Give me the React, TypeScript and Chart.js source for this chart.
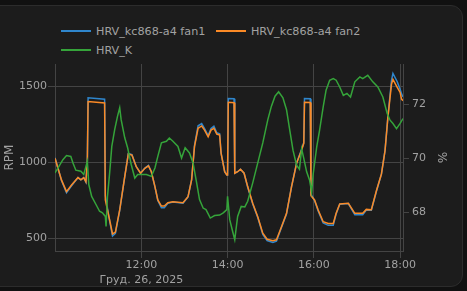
import React, { useEffect, useRef } from "react";
import { Chart, registerables } from "chart.js";

Chart.register(...registerables);

const SERIES_NAMES = ["HRV_kc868-a4 fan1", "HRV_kc868-a4 fan2", "HRV_K"];
const SERIES_COLORS = ["#2f86cc", "#fb8a26", "#35a43a"];

const FAN_TIMES = [
  "10:00", "10:09", "10:16", "10:23", "10:32", "10:36", "10:40", "10:43", "10:45", "10:46",
  "11:09", "11:10", "11:16", "11:20", "11:24", "11:30", "11:37", "11:42", "11:47", "11:53",
  "11:59", "12:05", "12:10", "12:14", "12:19", "12:23", "12:28", "12:32", "12:37", "12:44",
  "12:58", "13:05", "13:10", "13:14", "13:19", "13:24", "13:28", "13:33", "13:37", "13:41",
  "13:45", "13:49", "13:51", "13:56", "13:59", "14:00", "14:01", "14:09", "14:10", "14:14",
  "14:18", "14:23", "14:28", "14:35", "14:42", "14:49", "14:55", "15:03", "15:08", "15:15",
  "15:22", "15:29", "15:36", "15:43", "15:46", "15:47", "15:55", "15:56", "16:01", "16:06",
  "16:13", "16:20", "16:27", "16:31", "16:36", "16:48", "16:57", "17:08", "17:13", "17:20",
  "17:27", "17:34", "17:39", "17:43", "17:48", "17:50", "17:56", "18:00", "18:02", "18:04",
];

const FAN1_RPM = [
  1030, 880, 800, 845, 899, 884, 899, 870, 1012, 1425,
  1415, 780, 612, 515, 532, 684, 905, 1058, 1050, 972,
  928, 962, 980, 938, 838, 748, 700, 700, 730, 738,
  730, 772, 886, 1110, 1240, 1255, 1222, 1176, 1222, 1238,
  1194, 1188, 1062, 938, 916, 916, 1420, 1418, 928, 938,
  954, 928, 836, 725, 636, 525, 485, 472, 480, 570,
  660, 840, 995, 1085, 1130, 1420, 1418, 790, 748, 680,
  600, 585, 585, 660, 724, 728, 655, 655, 686, 684,
  808, 922, 1078, 1300, 1540, 1585, 1530, 1480, 1450, 1430,
];

const FAN2_RPM = [
  1026, 884, 807, 850, 899, 884, 899, 872, 1010, 1400,
  1390, 752, 620, 528, 540, 686, 905, 1055, 1048, 971,
  928, 960, 976, 938, 840, 752, 712, 712, 734, 740,
  734, 774, 884, 1103, 1224, 1239, 1212, 1168, 1212, 1224,
  1186, 1180, 1059, 938, 916, 916, 1395, 1392, 928, 938,
  954, 928, 840, 730, 642, 533, 493, 484, 490, 576,
  664, 840, 993, 1081, 1125, 1395, 1393, 780, 752, 686,
  609, 597, 597, 664, 726, 730, 664, 664, 690, 688,
  813, 923, 1076, 1296, 1515, 1545, 1493, 1460, 1416, 1405,
];

const K_TIMES = [
  "10:00", "10:04", "10:11", "10:16", "10:22", "10:25", "10:29", "10:36", "10:40", "10:45",
  "10:47", "10:51", "10:57", "11:02", "11:06", "11:10", "11:11", "11:13", "11:16", "11:19",
  "11:23", "11:27", "11:30", "11:32", "11:37", "11:41", "11:46", "11:51", "11:55", "12:00",
  "12:07", "12:14", "12:19", "12:23", "12:28", "12:35", "12:39", "12:44", "12:51", "12:56",
  "13:01", "13:07", "13:12", "13:17", "13:21", "13:26", "13:30", "13:36", "13:42", "13:49",
  "13:54", "13:59", "14:00", "14:03", "14:07", "14:10", "14:14", "14:19", "14:24", "14:28",
  "14:35", "14:42", "14:49", "14:56", "15:01", "15:06", "15:11", "15:17", "15:22", "15:26",
  "15:31", "15:36", "15:40", "15:43", "15:46", "15:50", "15:54", "15:57", "15:59", "16:04",
  "16:08", "16:13", "16:17", "16:22", "16:27", "16:31", "16:36", "16:41", "16:46", "16:51",
  "16:57", "17:04", "17:08", "17:15", "17:22", "17:29", "17:36", "17:42", "17:46", "17:50",
  "17:55", "18:00", "18:04",
];

const K_PCT = [
  69.46, 69.64, 69.95, 70.1, 70.07, 69.83, 69.56, 69.52, 69.4, 69.89,
  69.03, 68.59, 68.29, 68.04, 67.98, 67.85, 67.48, 68.59, 69.46, 70.44,
  71.06, 71.56, 71.87, 71.43, 70.76, 70.39, 69.77, 69.27, 69.4, 69.4,
  69.4, 69.33, 69.64, 70.07, 70.57, 70.63, 70.75, 70.63, 70.44, 70.01,
  70.39, 70.2, 69.83, 69.09, 68.47, 68.16, 68.1, 67.79, 67.88, 67.9,
  67.98, 68.1, 68.59, 67.73, 67.3, 66.99, 67.85, 68.22, 68.2, 68.41,
  69.09, 69.83, 70.57, 71.43, 71.93, 72.3, 72.46, 72.24, 71.8, 71.13,
  70.3, 69.75, 69.6, 70.35, 70.0, 69.5, 69.2, 68.75, 69.4, 70.42,
  71.04, 71.9, 72.52, 72.89, 72.95, 72.89, 72.64, 72.33, 72.4, 72.27,
  72.83, 73.01, 72.95, 73.07, 72.83, 72.64, 72.27, 71.66, 71.41, 71.29,
  71.1, 71.29, 71.47,
];

const X_RANGE = ["10:00", "18:04"];
const X_TICKS = ["12:00", "14:00", "16:00", "18:00"];
const DATE_LABEL = "Груд. 26, 2025";
const RPM_RANGE = [416, 1647];
const RPM_TICKS = [500, 1000, 1500];
const PCT_RANGE = [66.57, 73.49];
const PCT_TICKS = [68, 70, 72];
const Y_TITLES = ["RPM", "%"];

const TEXT = "#a2a2a2";
const GRID = "#444444";
const FONT = "'DejaVu Sans', sans-serif";

const toH = (s: string) => {
  const [h, m] = s.split(":").map(Number);
  return h + m / 60;
};
const fmt = (v: number) => {
  const h = Math.floor(v + 1e-6);
  const m = Math.round((v - h) * 60);
  return `${String(h).padStart(2, "0")}:${String(m).padStart(2, "0")}`;
};

export default function App() {
  const ref = useRef<HTMLCanvasElement | null>(null);

  useEffect(() => {
    if (!ref.current) return;
    Chart.defaults.font.family = FONT;
    const line = (i: number, times: string[], vals: number[], axis: string, order: number) => ({
      label: SERIES_NAMES[i],
      data: times.map((t, k) => ({ x: toH(t), y: vals[k] })),
      borderColor: SERIES_COLORS[i],
      backgroundColor: SERIES_COLORS[i],
      borderWidth: 1.5,
      pointRadius: 0,
      tension: 0,
      fill: false,
      yAxisID: axis,
      order,
    });
    const chart = new Chart(ref.current, {
      type: "line",
      data: {
        datasets: [
          line(0, FAN_TIMES, FAN1_RPM, "y", 2),
          line(1, FAN_TIMES, FAN2_RPM, "y", 1),
          line(2, K_TIMES, K_PCT, "y1", 0),
        ],
      },
      options: {
        animation: false,
        responsive: false,
        maintainAspectRatio: false,
        layout: { padding: { top: 64, left: 0, right: 0, bottom: 0 } },
        plugins: { legend: { display: false }, tooltip: { enabled: false } },
        scales: {
          x: {
            type: "linear",
            min: toH(X_RANGE[0]),
            max: toH(X_RANGE[1]),
            afterBuildTicks: (s: any) => {
              s.ticks = X_TICKS.map((t) => ({ value: toH(t) }));
            },
            afterFit: (s: any) => {
              s.height = 40;
            },
            ticks: {
              color: TEXT,
              font: { family: FONT, size: 11, lineHeight: 1.35 },
              padding: 0,
              maxRotation: 0,
              autoSkip: false,
              callback: (v: any, i: number) => (i === 0 ? [fmt(Number(v)), DATE_LABEL] : fmt(Number(v))),
            },
            grid: { color: GRID, tickLength: 7 },
            border: { color: GRID },
          },
          y: {
            position: "left",
            min: RPM_RANGE[0],
            max: RPM_RANGE[1],
            afterBuildTicks: (s: any) => {
              s.ticks = RPM_TICKS.map((v) => ({ value: v }));
            },
            afterFit: (s: any) => {
              s.width = 55;
            },
            title: {
              display: true,
              text: Y_TITLES[0],
              color: TEXT,
              font: { family: FONT, size: 12 },
              padding: { top: 3, bottom: 0 },
            },
            ticks: {
              color: TEXT,
              font: { family: FONT, size: 11 },
              padding: 1,
              callback: (v: any) => String(v),
            },
            grid: { color: GRID, tickLength: 7 },
            border: { color: GRID },
          },
          y1: {
            position: "right",
            min: PCT_RANGE[0],
            max: PCT_RANGE[1],
            afterBuildTicks: (s: any) => {
              s.ticks = PCT_TICKS.map((v) => ({ value: v }));
            },
            afterFit: (s: any) => {
              s.width = 64;
            },
            title: {
              display: true,
              text: Y_TITLES[1],
              color: TEXT,
              font: { family: FONT, size: 12 },
              padding: { top: 19, bottom: 0 },
            },
            ticks: {
              color: TEXT,
              font: { family: FONT, size: 11 },
              padding: 3,
              callback: (v: any) => String(v),
            },
            grid: { color: GRID, tickLength: 6, drawOnChartArea: false },
            border: { color: GRID },
          },
        },
      },
    } as any);
    return () => chart.destroy();
  }, []);

  const legendItem = (i: number) => (
    <div key={i} style={{ display: "flex", alignItems: "center", height: 19 }}>
      <span style={{ display: "inline-block", width: 30, height: 2, background: SERIES_COLORS[i], marginRight: 5 }} />
      <span>{SERIES_NAMES[i]}</span>
    </div>
  );

  return (
    <div style={{ position: "fixed", left: 0, top: 0, width: 467, height: 291, background: "#111111", overflow: "hidden" }}>
      <div
        style={{
          position: "absolute",
          left: -14,
          top: 5,
          width: 475,
          height: 280,
          background: "#1c1c1c",
          border: "1px solid #2c2c2c",
          borderRadius: 12,
        }}
      />
      <div
        style={{
          position: "absolute",
          left: 61,
          top: 21.5,
          width: 310,
          display: "flex",
          flexWrap: "wrap",
          columnGap: 10.5,
          fontFamily: FONT,
          fontSize: 11.2,
          color: TEXT,
          lineHeight: "19px",
        }}
      >
        {SERIES_NAMES.map((_, i) => legendItem(i))}
      </div>
      <canvas ref={ref} width={467} height={291} style={{ position: "absolute", left: 0, top: 0, width: 467, height: 291 }} />
    </div>
  );
}
